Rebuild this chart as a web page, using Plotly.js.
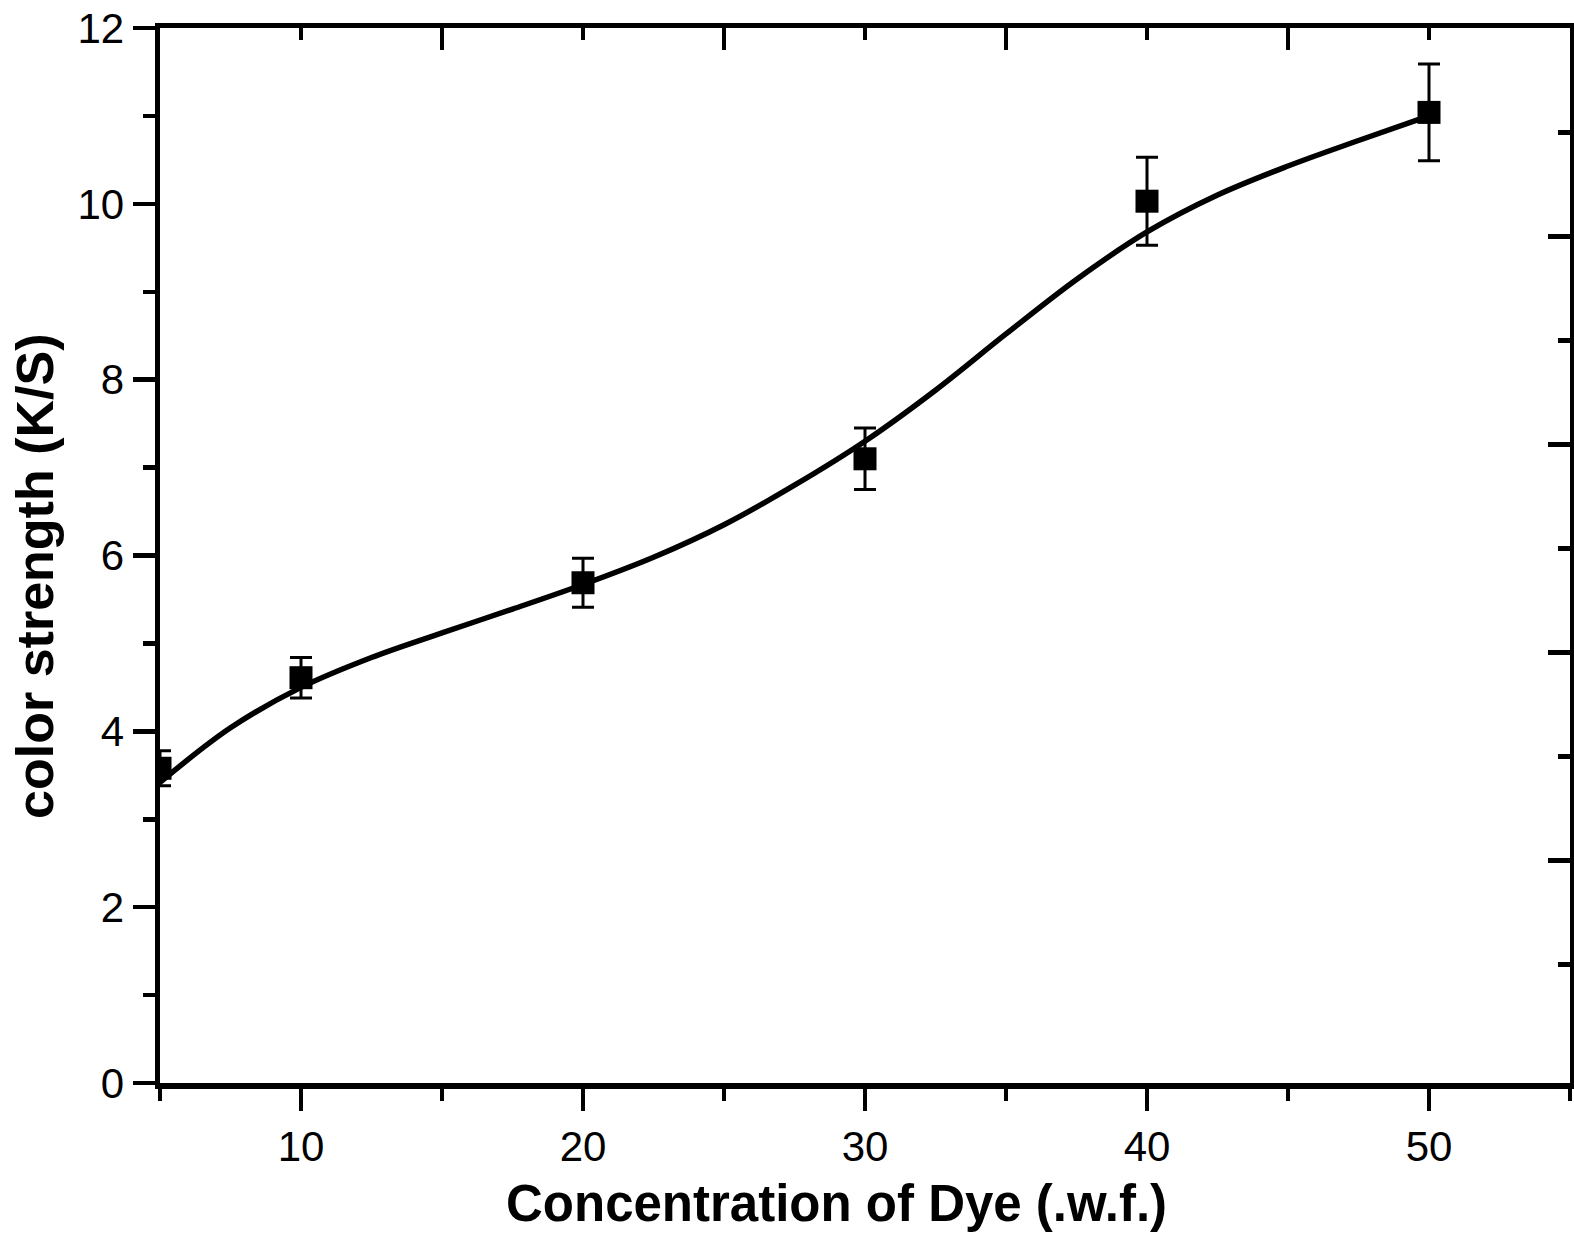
<!DOCTYPE html>
<html><head><meta charset="utf-8">
<script src="https://cdn.plot.ly/plotly-3.0.1.min.js"></script>
<style>html,body{margin:0;padding:0;background:#fff}#chart{width:1574px;height:1249px}</style>
</head><body><div id="chart"></div>
<script>
// measured data points (K/S vs dye concentration)
const dyeConc = [5, 10, 20, 30, 40, 50];
const colorStrength = [3.58, 4.61, 5.69, 7.10, 10.03, 11.04];
const errStrength = [0.20, 0.23, 0.28, 0.35, 0.50, 0.55];
// fitted smooth curve
const fitX = [5, 7.5, 10, 12.5, 15, 17.5, 20, 22.5, 25, 27.5, 30, 32.5, 35, 37.5, 40, 42.5, 45, 47.5, 50];
const fitY = [3.42, 4.04, 4.50, 4.84, 5.12, 5.39, 5.67, 5.98, 6.35, 6.80, 7.30, 7.88, 8.52, 9.14, 9.68, 10.10, 10.43, 10.72, 11.00];
// axis ticks
const xMajorTicks = [10, 20, 30, 40, 50];
const yMajorTicks = [0, 2, 4, 6, 8, 10, 12];
const topMajorTicks = [15, 25, 35, 45];
const topMinorTicks = [10, 20, 30, 40, 50];
const rightMajorTicks = [2, 4, 6, 8];
const rightMinorTicks = [1, 3, 5, 7, 9];
const xTitle = 'Concentration of Dye (.w.f.)';
const yTitle = 'color strength (K/S)';

const FONT = "Liberation Sans, Arial, Helvetica, sans-serif";
const AXW = 5.5, TKW = 4.5;

const traces = [
  {
    x: fitX, y: fitY, type: 'scatter', mode: 'lines',
    line: {color: '#000', width: 5.5, shape: 'spline', smoothing: 1},
    hoverinfo: 'skip', showlegend: false
  },
  {
    x: dyeConc, y: colorStrength, type: 'scatter', mode: 'markers',
    marker: {symbol: 'square', size: 23, color: '#000', line: {width: 0}},
    error_y: {type: 'data', array: errStrength, visible: true, color: '#000', thickness: 3, width: 11},
    showlegend: false
  },
  {
    x: [], y: [], xaxis: 'x2', yaxis: 'y2', type: 'scatter', mode: 'markers', showlegend: false
  }
];

const layout = {
  width: 1574, height: 1249,
  margin: {l: 160, r: 4, t: 28, b: 166, pad: 0},
  paper_bgcolor: '#fff', plot_bgcolor: '#fff',
  font: {family: FONT, color: '#000', size: 42},
  showlegend: false,
  xaxis: {
    range: [5, 55], showgrid: false, zeroline: false,
    showline: true, linecolor: '#000', linewidth: AXW, mirror: false,
    tickmode: 'array', tickvals: xMajorTicks, ticktext: xMajorTicks.map(String),
    ticks: 'outside', ticklen: 22, tickwidth: TKW, tickcolor: '#000',
    minor: {tickmode: 'linear', tick0: 5, dtick: 10, ticks: 'outside', ticklen: 12, tickwidth: TKW, tickcolor: '#000'},
    tickfont: {family: FONT, size: 42, color: '#000'}
  },
  yaxis: {
    range: [0, 12], showgrid: false, zeroline: false,
    showline: true, linecolor: '#000', linewidth: AXW, mirror: false,
    tickmode: 'array', tickvals: yMajorTicks, ticktext: yMajorTicks.map(String),
    ticks: 'outside', ticklen: 22, tickwidth: TKW, tickcolor: '#000',
    minor: {tickmode: 'linear', tick0: 1, dtick: 2, ticks: 'outside', ticklen: 12, tickwidth: TKW, tickcolor: '#000'},
    tickfont: {family: FONT, size: 42, color: '#000'}
  },
  xaxis2: {
    overlaying: 'x', side: 'top', anchor: 'y', range: [5, 55],
    showgrid: false, zeroline: false, showticklabels: false,
    showline: true, linecolor: '#000', linewidth: AXW,
    tickmode: 'array', tickvals: topMajorTicks,
    ticks: 'inside', ticklen: 22, tickwidth: TKW, tickcolor: '#000',
    minor: {tickmode: 'array', tickvals: topMinorTicks, ticks: 'inside', ticklen: 12, tickwidth: TKW, tickcolor: '#000'}
  },
  yaxis2: {
    overlaying: 'y', side: 'right', anchor: 'x', range: [-0.142, 10.005],
    showgrid: false, zeroline: false, showticklabels: false,
    showline: true, linecolor: '#000', linewidth: AXW,
    tickmode: 'array', tickvals: rightMajorTicks,
    ticks: 'inside', ticklen: 22, tickwidth: TKW, tickcolor: '#000',
    minor: {tickmode: 'array', tickvals: rightMinorTicks, ticks: 'inside', ticklen: 12, tickwidth: TKW, tickcolor: '#000'}
  },
  annotations: [
    {
      text: xTitle, xref: 'paper', yref: 'paper', x: 0.480, y: -0.114,
      xanchor: 'center', yanchor: 'middle', showarrow: false,
      font: {family: FONT, size: 51, color: '#000', weight: 'bold'}
    },
    {
      text: yTitle, xref: 'paper', yref: 'paper', x: -0.0887, y: 0.4806, textangle: -90,
      xanchor: 'center', yanchor: 'middle', showarrow: false,
      font: {family: FONT, size: 52, color: '#000', weight: 'bold'}
    }
  ]
};

Plotly.newPlot('chart', traces, layout, {displayModeBar: false, staticPlot: true});
</script>
</body></html>
